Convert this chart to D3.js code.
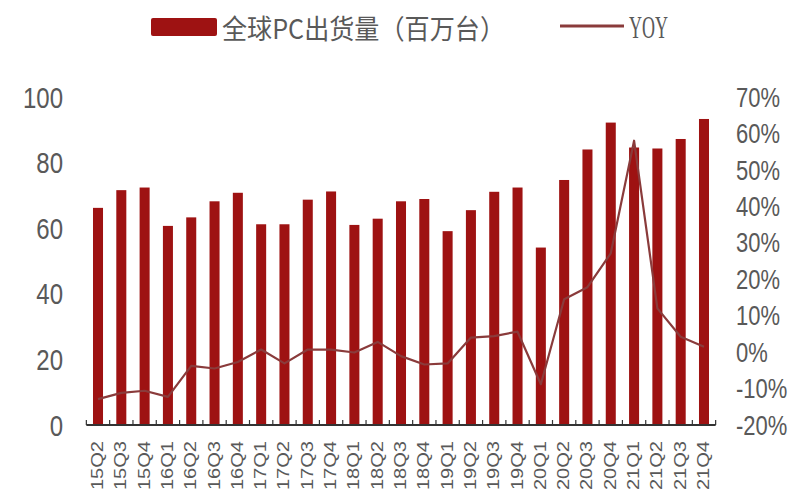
<!DOCTYPE html>
<html>
<head>
<meta charset="utf-8">
<script src="https://cdn.jsdelivr.net/npm/d3@7"></script>
<style>
html,body{margin:0;padding:0;background:#fff;}
svg{display:block;}
</style>
</head>
<body>
<svg id="chart" width="800" height="500"></svg>
<script>
const categories = ["15Q2","15Q3","15Q4","16Q1","16Q2","16Q3","16Q4","17Q1","17Q2","17Q3","17Q4","18Q1","18Q2","18Q3","18Q4","19Q1","19Q2","19Q3","19Q4","20Q1","20Q2","20Q3","20Q4","21Q1","21Q2","21Q3","21Q4"];
const shipments = [66.2,71.6,72.4,60.7,63.3,68.2,70.8,61.2,61.2,68.7,71.2,61.0,62.9,68.2,68.9,59.1,65.5,71.1,72.4,54.1,74.7,84.0,92.2,84.6,84.3,87.2,93.3];
const yoy = [-12.9,-11.2,-10.6,-12.3,-3.8,-4.5,-2.7,0.7,-3.1,0.7,0.7,-0.1,2.8,-1.1,-3.4,-3.1,4.0,4.4,5.6,-8.8,14.5,17.8,27.1,58.0,12.0,4.2,1.5];
const leftTicks = [0,20,40,60,80,100];
const rightTicks = [-20,-10,0,10,20,30,40,50,60,70];
const legendBar = "全球PC出货量（百万台）";
const legendLine = "YOY";

const barColor = "#9e1212";
const lineColor = "#8a3b3b";
const textColor = "#595959";

const svg = d3.select("#chart");

const x = d3.scaleBand().domain(categories).range([86,716]).paddingInner(0.57).paddingOuter(0.3);
const yL = d3.scaleLinear().domain([0,100]).range([425,97]);
const yR = d3.scaleLinear().domain([-20,70]).range([425,97]);

// bars
svg.append("g").selectAll("rect").data(categories).join("rect")
  .attr("x", d => x(d))
  .attr("width", x.bandwidth())
  .attr("y", (d,i) => yL(shipments[i]))
  .attr("height", (d,i) => yL(0) - yL(shipments[i]))
  .attr("fill", barColor);

// x axis line & ticks
const step = x.step();
const gap = (step - x.bandwidth())/2;
svg.append("line")
  .attr("x1", x(categories[0]) - gap).attr("x2", x(categories[categories.length-1]) + x.bandwidth() + gap)
  .attr("y1", yL(0)).attr("y2", yL(0))
  .attr("stroke", "#333").attr("stroke-width", 2);
const tickXs = categories.map(d => x(d) - gap).concat([x(categories[categories.length-1]) + x.bandwidth() + gap]);
svg.append("g").selectAll("line").data(tickXs).join("line")
  .attr("x1", d => d).attr("x2", d => d)
  .attr("y1", yL(0)).attr("y2", yL(0) - 5)
  .attr("stroke", "#333").attr("stroke-width", 1.2);

// YOY line
const line = d3.line()
  .x((d,i) => x(categories[i]) + x.bandwidth()/2)
  .y(d => yR(d));
svg.append("path").datum(yoy)
  .attr("d", line)
  .attr("fill", "none")
  .attr("stroke", lineColor)
  .attr("stroke-width", 2.2)
  .attr("stroke-linejoin", "round");

// left axis labels
svg.append("g").selectAll("text").data(leftTicks).join("text")
  .attr("transform", d => `translate(63,${yL(d)}) scale(1,1.22)`)
  .attr("text-anchor", "end")
  .attr("dy", "0.36em")
  .attr("font-family", "Liberation Sans, Arial, sans-serif")
  .attr("font-size", 24)
  .attr("fill", textColor)
  .text(d => d);

// right axis labels
svg.append("g").selectAll("text").data(rightTicks).join("text")
  .attr("transform", d => `translate(736,${yR(d)}) scale(1,1.22)`)
  .attr("text-anchor", "start")
  .attr("dy", "0.36em")
  .attr("font-family", "Liberation Sans, Arial, sans-serif")
  .attr("font-size", 22)
  .attr("fill", textColor)
  .text(d => d + "%");

// x labels
svg.append("g").selectAll("text").data(categories).join("text")
  .attr("transform", d => `translate(${x(d) + x.bandwidth()/2 + 5},441) scale(1,1.18) rotate(-90)`)
  .attr("text-anchor", "end")
  .attr("font-family", "Liberation Sans, Arial, sans-serif")
  .attr("font-size", 17)
  .attr("fill", textColor)
  .text(d => d);

// legend
svg.append("rect").attr("x",151).attr("y",18).attr("width",66).attr("height",18).attr("rx",2).attr("fill", barColor);
svg.append("text")
  .attr("x", 222).attr("y", 39)
  .attr("font-family", "Noto Sans CJK SC, sans-serif")
  .attr("font-size", 27)
  .attr("textLength", 283)
  .attr("lengthAdjust", "spacingAndGlyphs")
  .attr("fill", textColor)
  .text(legendBar);
svg.append("line").attr("x1",560).attr("x2",624).attr("y1",26).attr("y2",26)
  .attr("stroke", lineColor).attr("stroke-width", 3);
svg.append("text")
  .attr("x", 629).attr("y", 38)
  .attr("font-family", "Liberation Serif, serif")
  .attr("font-size", 31)
  .attr("textLength", 39)
  .attr("lengthAdjust", "spacingAndGlyphs")
  .attr("fill", textColor)
  .text(legendLine);
</script>
</body>
</html>
